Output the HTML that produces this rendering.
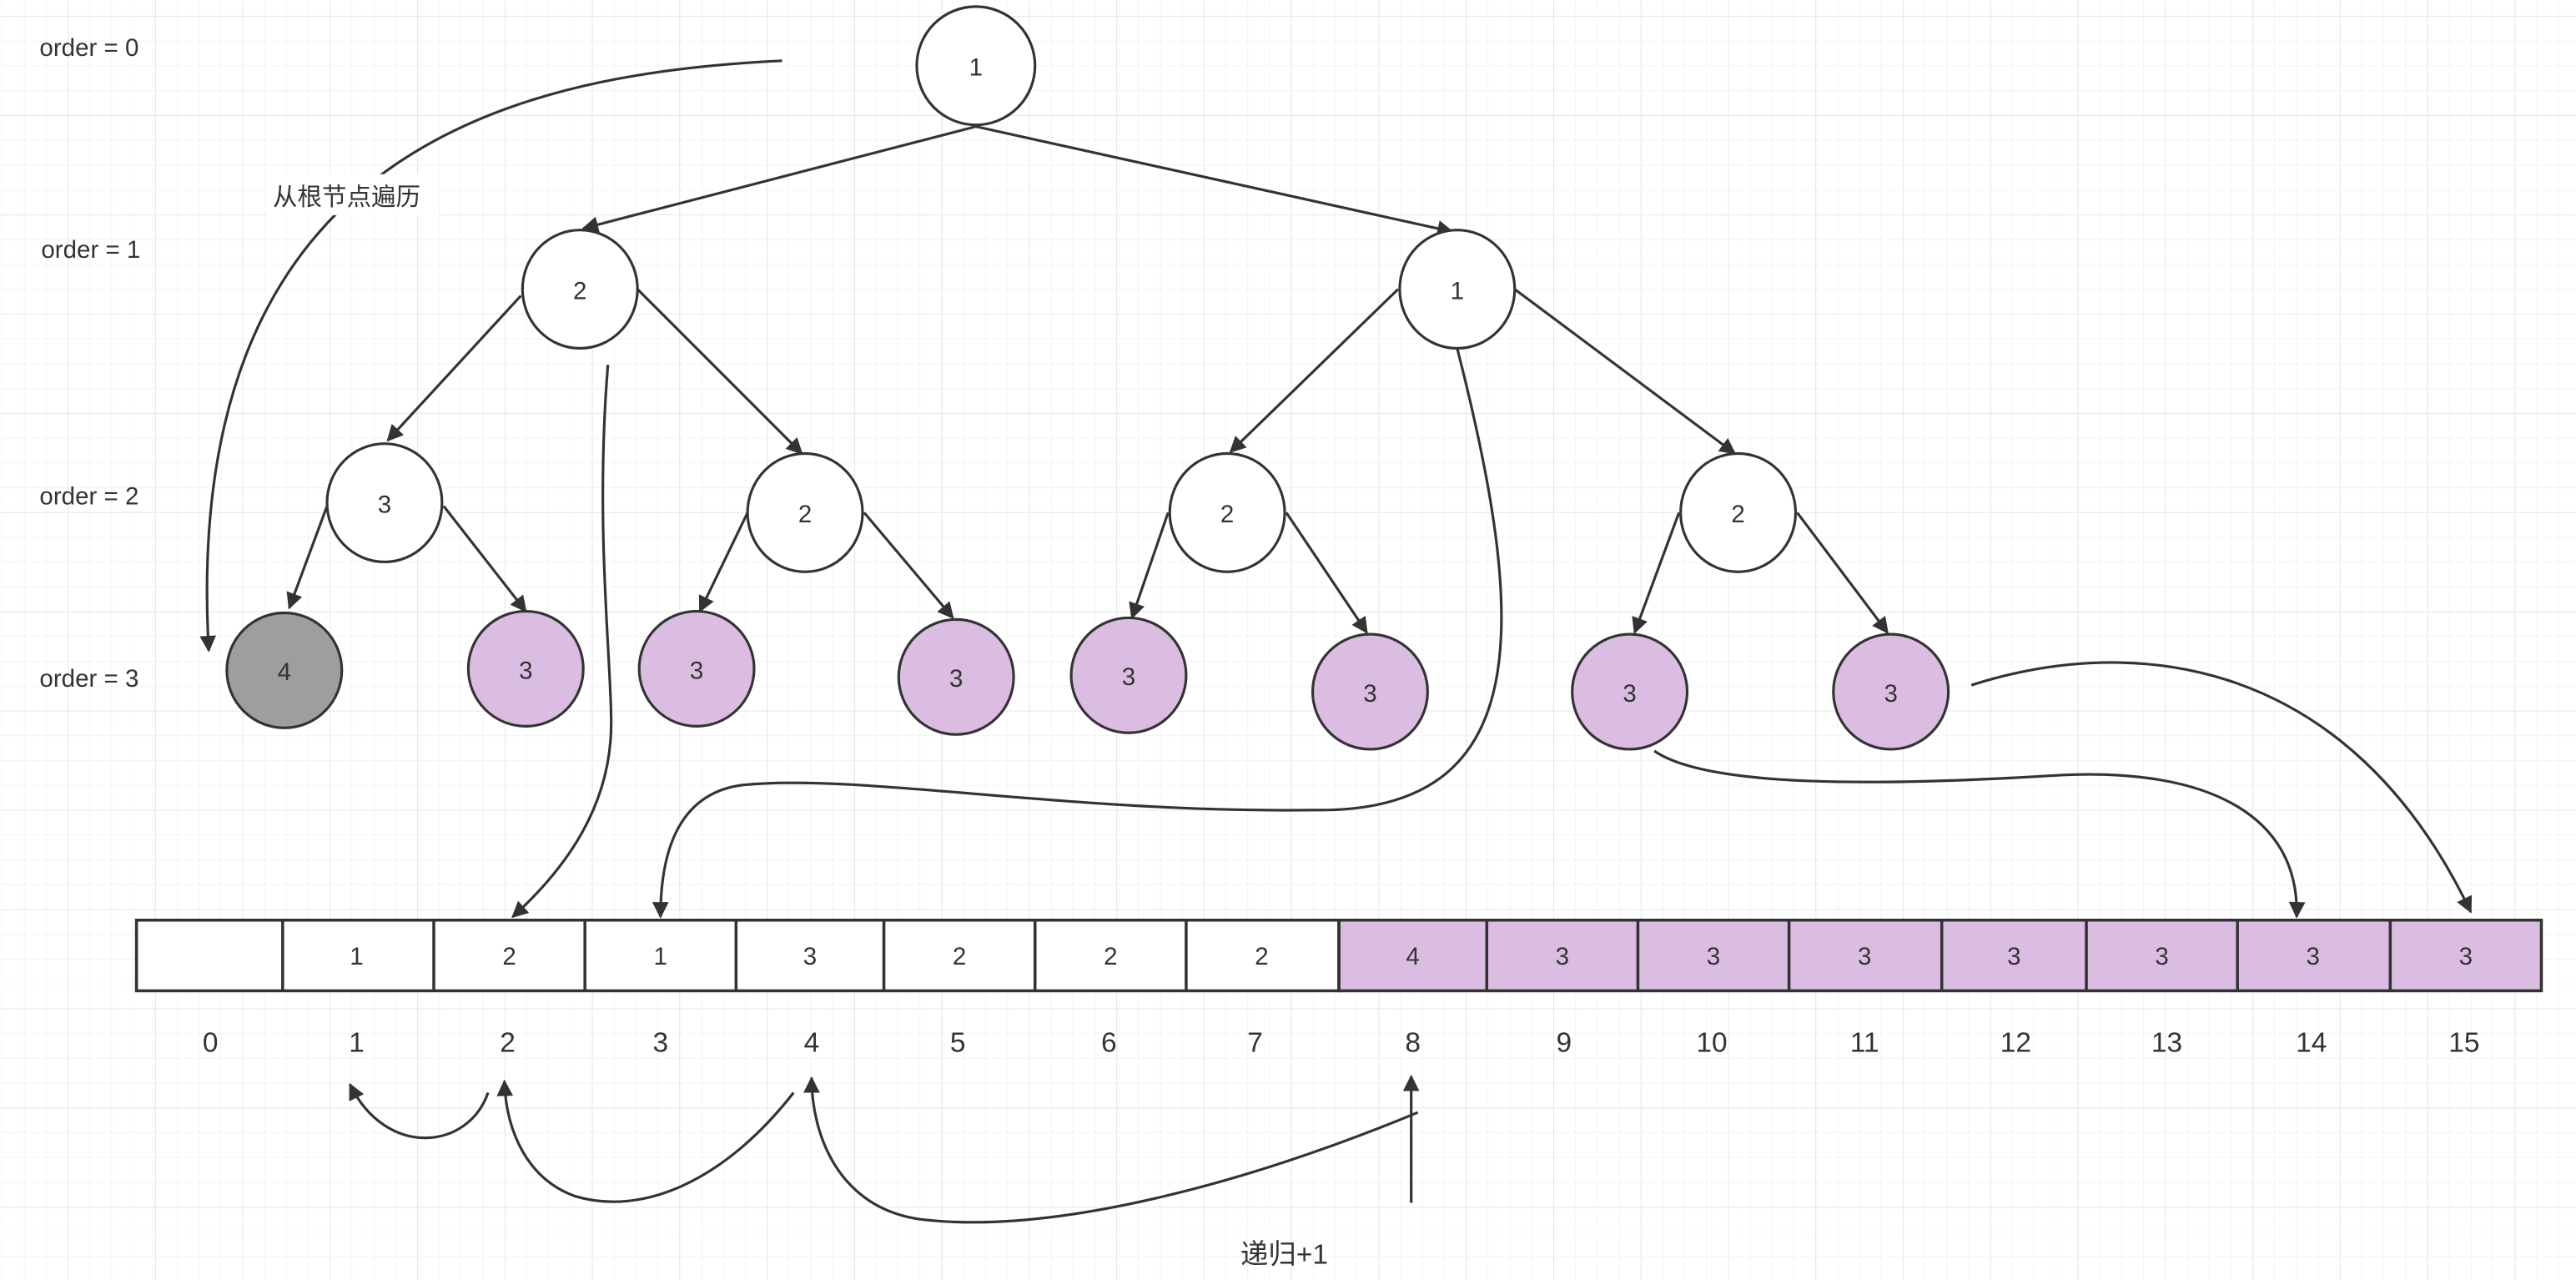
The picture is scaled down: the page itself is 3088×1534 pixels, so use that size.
<!DOCTYPE html>
<html><head><meta charset="utf-8"><style>
html,body{margin:0;padding:0;background:#fff;}
svg{display:block;}
text{font-family:"Liberation Sans","Noto Sans CJK SC",sans-serif;fill:#333;}
</style></head><body>
<svg width="3088" height="1534" viewBox="0 0 1568 779" xmlns="http://www.w3.org/2000/svg">
<defs>
<pattern id="minor" x="1.2" y="-5.4" width="13.3" height="15.1" patternUnits="userSpaceOnUse">
<path d="M0 0V15.1M0 0H13.3" stroke="#f0f0f0" stroke-width="0.7" fill="none"/>
</pattern>
<pattern id="major" x="41.1" y="9.7" width="53.2" height="60.4" patternUnits="userSpaceOnUse">
<path d="M0 0V60.4M0 0H53.2" stroke="#e6e6e6" stroke-width="0.9" fill="none"/>
</pattern>
<marker id="a" viewBox="0 0 10 10" refX="9" refY="5" markerWidth="12" markerHeight="10" markerUnits="userSpaceOnUse" orient="auto">
<path d="M0 0L10 5L0 10z" fill="#333"/>
</marker>
</defs>
<rect width="1568" height="779" fill="url(#minor)"/>
<rect width="1568" height="779" fill="url(#major)"/>

<g font-size="15">
<text x="24" y="34">order = 0</text>
<text x="25" y="157">order = 1</text>
<text x="24" y="307">order = 2</text>
<text x="24" y="418">order = 3</text>
</g>

<g stroke="#333" stroke-width="1.6" fill="none" marker-end="url(#a)">
<path d="M594 77L355 139"/>
<path d="M594 77L884 141"/>
<path d="M317 180L236 268"/>
<path d="M388 176L488 276"/>
<path d="M851 176L749 275"/>
<path d="M922 176L1056 276"/>
<path d="M199 308L176 370"/>
<path d="M270 308L320 372"/>
<path d="M455 312L426 372"/>
<path d="M526 312L580 376"/>
<path d="M711 312L689 376"/>
<path d="M783 312L832 385"/>
<path d="M1022 312L995 385"/>
<path d="M1094 312L1149 385"/>
<path d="M476 37C300 45 110 100 127 396"/>
<path d="M370 222C362 320 372 400 372 440C372 490 345 528 312 558"/>
<path d="M887 212C930 380 935 495 800 493C650 495 520 470 450 478C412 484 402 520 402 558"/>
<path d="M1007 457C1040 480 1150 478 1250 472C1350 466 1400 500 1398 558"/>
<path d="M1200 417C1300 385 1430 400 1504 555"/>
<path d="M297 665C285 700 235 705 213 660"/>
<path d="M483 665C440 720 390 740 350 728C322 718 308 690 307 658"/>
<path d="M863 677C760 720 640 752 560 742C510 735 494 690 494 656"/>
<path d="M859 732V655"/>
</g>

<rect x="163" y="106" width="104" height="25" fill="#fff"/>
<text x="166" y="125" font-size="15">从根节点遍历</text>
<text x="755" y="769" font-size="17">递归+1</text>

<g stroke="#333" stroke-width="1.6">
<ellipse cx="594" cy="40" rx="36" ry="36" fill="#fff"/>
<ellipse cx="353" cy="176" rx="35" ry="36" fill="#fff"/>
<ellipse cx="887" cy="176" rx="35" ry="36" fill="#fff"/>
<ellipse cx="234" cy="306" rx="35" ry="36" fill="#fff"/>
<ellipse cx="490" cy="312" rx="35" ry="36" fill="#fff"/>
<ellipse cx="747" cy="312" rx="35" ry="36" fill="#fff"/>
<ellipse cx="1058" cy="312" rx="35" ry="36" fill="#fff"/>
<ellipse cx="173" cy="408" rx="35" ry="35" fill="#9e9e9e"/>
<ellipse cx="320" cy="407" rx="35" ry="35" fill="#dbbde1"/>
<ellipse cx="424" cy="407" rx="35" ry="35" fill="#dbbde1"/>
<ellipse cx="582" cy="412" rx="35" ry="35" fill="#dbbde1"/>
<ellipse cx="687" cy="411" rx="35" ry="35" fill="#dbbde1"/>
<ellipse cx="834" cy="421" rx="35" ry="35" fill="#dbbde1"/>
<ellipse cx="992" cy="421" rx="35" ry="35" fill="#dbbde1"/>
<ellipse cx="1151" cy="421" rx="35" ry="35" fill="#dbbde1"/>
</g>
<g font-size="15" text-anchor="middle">
<text x="594" y="46">1</text>
<text x="353" y="182">2</text>
<text x="887" y="182">1</text>
<text x="234" y="312">3</text>
<text x="490" y="318">2</text>
<text x="747" y="318">2</text>
<text x="1058" y="318">2</text>
<text x="173" y="414">4</text>
<text x="320" y="413">3</text>
<text x="424" y="413">3</text>
<text x="582" y="418">3</text>
<text x="687" y="417">3</text>
<text x="834" y="427">3</text>
<text x="992" y="427">3</text>
<text x="1151" y="427">3</text>
</g>

<g stroke="#333" stroke-width="1.8">
<rect x="83" y="560" width="732" height="43" fill="#fff"/>
<rect x="815" y="560" width="732" height="43" fill="#dbbde1"/>
<path d="M172 560V603M264 560V603M356 560V603M448 560V603M538 560V603M630 560V603M722 560V603M815 560V603M905 560V603M997 560V603M1089 560V603M1182 560V603M1270 560V603M1362 560V603M1455 560V603"/>
</g>
<g font-size="15" text-anchor="middle">
<text x="217" y="587">1</text><text x="310" y="587">2</text><text x="402" y="587">1</text><text x="493" y="587">3</text>
<text x="584" y="587">2</text><text x="676" y="587">2</text><text x="768" y="587">2</text><text x="860" y="587">4</text>
<text x="951" y="587">3</text><text x="1043" y="587">3</text><text x="1135" y="587">3</text><text x="1226" y="587">3</text>
<text x="1316" y="587">3</text><text x="1408" y="587">3</text><text x="1501" y="587">3</text>
</g>
<g font-size="17" text-anchor="middle">
<text x="128" y="640">0</text><text x="217" y="640">1</text><text x="309" y="640">2</text><text x="402" y="640">3</text>
<text x="494" y="640">4</text><text x="583" y="640">5</text><text x="675" y="640">6</text><text x="764" y="640">7</text>
<text x="860" y="640">8</text><text x="952" y="640">9</text><text x="1042" y="640">10</text><text x="1135" y="640">11</text>
<text x="1227" y="640">12</text><text x="1319" y="640">13</text><text x="1407" y="640">14</text><text x="1500" y="640">15</text>
</g>
</svg>
</body></html>
